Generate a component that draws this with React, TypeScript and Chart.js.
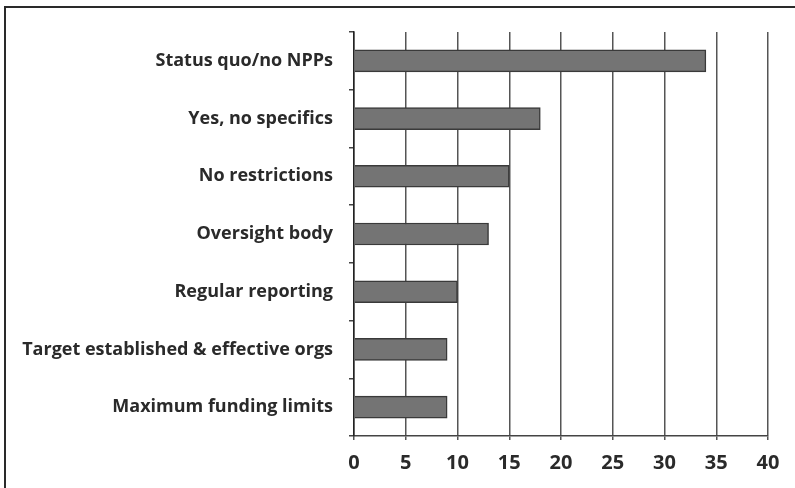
import React, { useEffect, useRef } from "react";
import { Chart, registerables } from "chart.js";

Chart.register(...registerables);

const categories = [
  "Status quo/no NPPs",
  "Yes, no specifics",
  "No restrictions",
  "Oversight body",
  "Regular reporting",
  "Target established & effective orgs",
  "Maximum funding limits",
];
const values = [34, 18, 15, 13, 10, 9, 9];
const xMin = 0;
const xMax = 40;
const xStep = 5;

const FONT = "'Open Sans', Lato, sans-serif";

const framePlugin = {
  id: "frame",
  beforeDraw(chart: any) {
    const ctx = chart.ctx;
    ctx.save();
    ctx.fillStyle = "#ffffff";
    ctx.fillRect(0, 0, chart.width, chart.height);
    ctx.strokeStyle = "#2a2a2a";
    ctx.lineWidth = 2;
    ctx.beginPath();
    ctx.moveTo(5, chart.height);
    ctx.lineTo(5, 7);
    ctx.lineTo(chart.width, 7);
    ctx.stroke();
    ctx.restore();
  },
};

export default function App() {
  const ref = useRef<HTMLCanvasElement | null>(null);
  useEffect(() => {
    if (!ref.current) return;
    const chart = new Chart(ref.current, {
      type: "bar",
      data: {
        labels: categories,
        datasets: [
          {
            data: values,
            backgroundColor: "#747474",
            borderColor: "#3a3a3a",
            borderWidth: 1.5,
            barThickness: 22,
          },
        ],
      },
      plugins: [framePlugin],
      options: {
        indexAxis: "y",
        animation: false,
        responsive: false,
        maintainAspectRatio: false,
        layout: { padding: { top: 32, right: 27, left: 0, bottom: 0 } },
        plugins: { legend: { display: false }, tooltip: { enabled: false } },
        scales: {
          x: {
            min: xMin,
            max: xMax,
            ticks: {
              stepSize: xStep,
              color: "#2a2a2a",
              padding: 11,
              font: { family: FONT, size: 20, weight: "bold" },
            },
            grid: {
              color: "#555",
              lineWidth: 1.5,
              tickLength: 4,
            },
            border: { display: true, color: "#444", width: 1.5 },
            afterFit: (s: any) => {
              s.height = 52;
            },
          },
          y: {
            ticks: {
              color: "#2a2a2a",
              padding: 16,
              font: { family: FONT, size: 18, weight: "bold" },
            },
            grid: {
              drawOnChartArea: false,
              drawTicks: true,
              tickLength: 5,
              color: "#444",
              lineWidth: 1.5,
            },
            border: { display: true, color: "#222", width: 1.5 },
            afterFit: (s: any) => {
              s.width = 354;
            },
          },
        },
      },
    } as any);
    return () => chart.destroy();
  }, []);
  return (
    <div style={{ position: "fixed", left: 0, top: 0, width: 795, height: 488, background: "#fff" }}>
      <canvas ref={ref} width={795} height={488} style={{ width: 795, height: 488 }} />
    </div>
  );
}
